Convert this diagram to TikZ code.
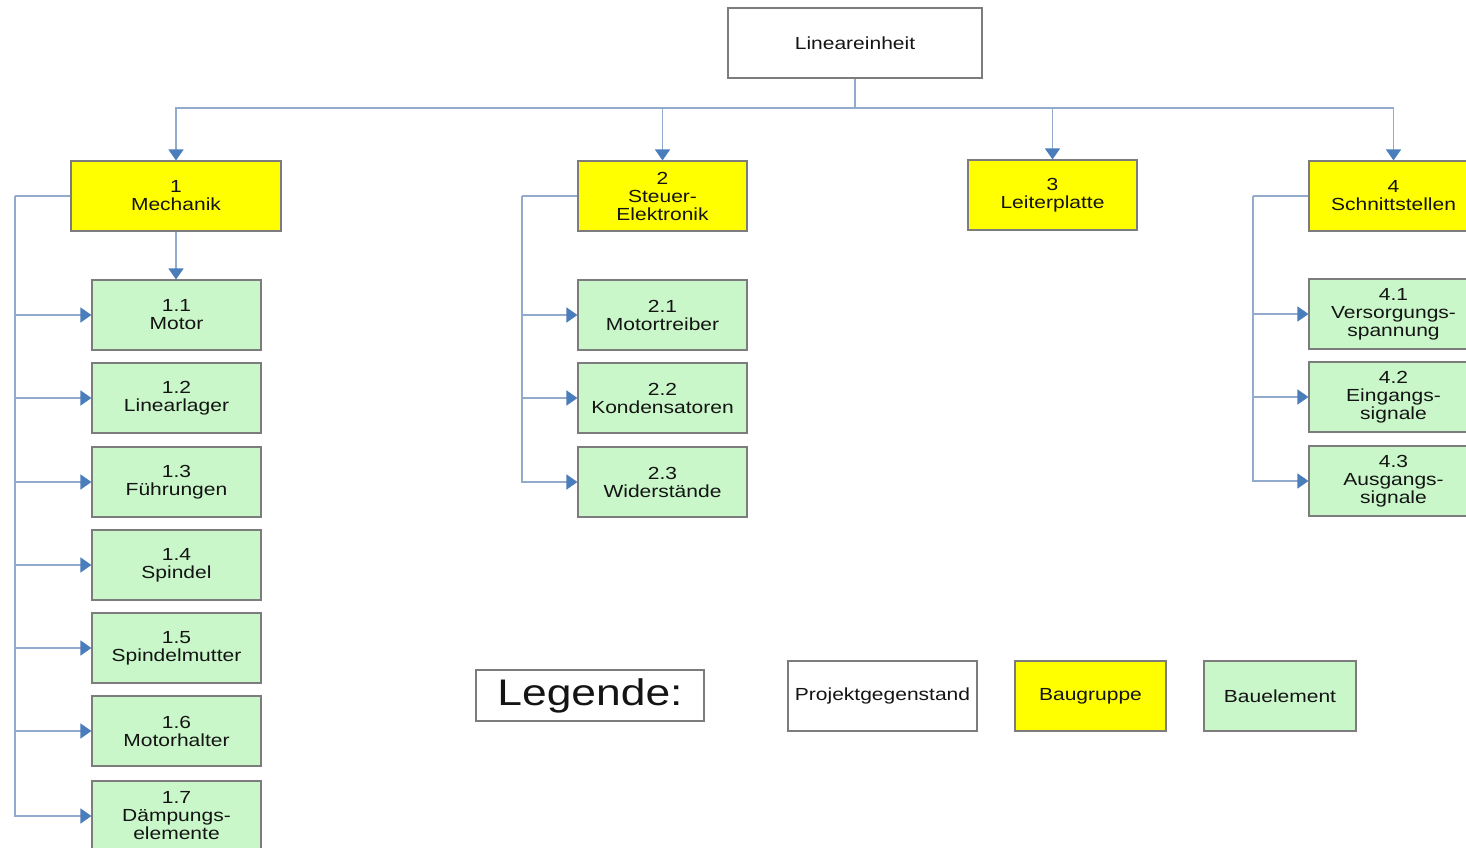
\documentclass[tikz,border=0pt]{standalone}
\usepackage{fontspec}
\setmainfont{Liberation Sans}[FakeStretch=1.2]
\usetikzlibrary{arrows.meta}
\definecolor{linkline}{HTML}{92AACB}
\definecolor{linktip}{HTML}{4A7DBB}
\definecolor{boxline}{HTML}{7C7C7C}
\definecolor{groupfill}{HTML}{FFFF00}
\definecolor{partfill}{HTML}{C9F7C9}
\definecolor{ink}{HTML}{141414}
\tikzset{
  box/.style={draw=boxline, line width=1.1pt, inner sep=0pt, align=center,
    text=ink, font=\fontsize{17.5}{18}\selectfont, minimum height=70pt},
  projectbox/.style={box, fill=white},
  groupbox/.style={box, fill=groupfill, minimum width=169pt},
  partbox/.style={box, fill=partfill, minimum width=169pt},
  conn/.style={draw=linkline, line width=1.3pt},
  arr/.style={conn, -{Triangle[width=15pt,length=11pt,color=linktip,fill=linktip]}},
}
\begin{document}
\begin{tikzpicture}[x=1pt,y=-1pt]
\useasboundingbox (0,0) rectangle (1466,848);
\clip (0,0) rectangle (1466,848);
\fill[white] (0,0) rectangle (1466,848);

% project root
\node[projectbox, minimum width=254pt] (top) at (855,43) {Lineareinheit};

% assemblies
\node[groupbox, minimum width=210pt] (m1) at (176,196) {1\\Mechanik};
\node[groupbox] (s2) at (662.5,196) {2\\Steuer-\\Elektronik};
\node[groupbox] (l3) at (1052.5,195) {3\\Leiterplatte};
\node[groupbox] (i4) at (1393.5,196) {4\\Schnittstellen};

% parts of 1
\node[partbox] (m11) at (176.5,315) {1.1\\Motor};
\node[partbox] (m12) at (176.5,398) {1.2\\Linearlager};
\node[partbox] (m13) at (176.5,482) {1.3\\Führungen};
\node[partbox] (m14) at (176.5,565) {1.4\\Spindel};
\node[partbox] (m15) at (176.5,648) {1.5\\Spindelmutter};
\node[partbox] (m16) at (176.5,731) {1.6\\Motorhalter};
\node[partbox] (m17) at (176.5,816) {1.7\\Dämpungs-\\elemente};

% parts of 2
\node[partbox] (s21) at (662.5,315) {2.1\\Motortreiber};
\node[partbox] (s22) at (662.5,398) {2.2\\Kondensatoren};
\node[partbox] (s23) at (662.5,482) {2.3\\Widerstände};

% parts of 4
\node[partbox] (i41) at (1393.5,314) {4.1\\Versorgungs-\\spannung};
\node[partbox] (i42) at (1393.5,397) {4.2\\Eingangs-\\signale};
\node[partbox] (i43) at (1393.5,481) {4.3\\Ausgangs-\\signale};

% root to assemblies
\coordinate (hub) at (855,108);
\draw[conn] (top.south) -- (hub);
\foreach \g in {m1,s2,l3,i4}
  \draw[arr] (hub) -| (\g.north);

% Mechanik
\draw[arr] (m1.south) -- (m1.south |- m11.north);
\coordinate (mbus) at (15,196);
\draw[conn] (m1.west) -- (mbus);
\foreach \k in {1,...,7}
  \draw[arr] (mbus) |- (m1\k.west);

% Steuer-Elektronik
\coordinate (sbus) at (522,196);
\draw[conn] (s2.west) -- (sbus);
\foreach \k in {1,2,3}
  \draw[arr] (sbus) |- (s2\k.west);

% Schnittstellen
\coordinate (ibus) at (1253,196);
\draw[conn] (i4.west) -- (ibus);
\foreach \k in {1,2,3}
  \draw[arr] (ibus) |- (i4\k.west);

% legend
\node[projectbox, minimum width=228pt, minimum height=51pt,
      font=\fontsize{37}{40}\selectfont] (leg) at (590,695.5) {Legende:};
\node[projectbox, minimum width=189pt] (legp) at (882.5,696) {Projektgegenstand};
\node[groupbox, minimum width=151pt] (legg) at (1090.5,696) {Baugruppe};
\node[partbox, minimum width=152pt] (lege) at (1280,696) {Bauelement};
\end{tikzpicture}
\end{document}
